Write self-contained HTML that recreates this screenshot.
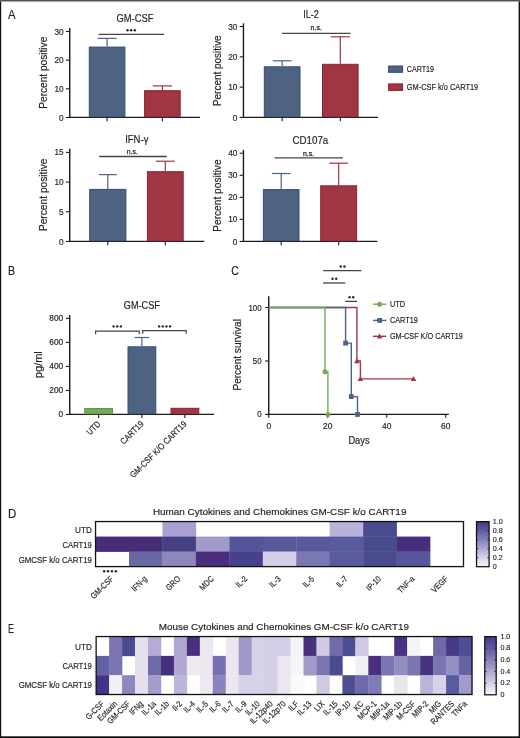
<!DOCTYPE html>
<html><head><meta charset="utf-8"><style>
html,body{margin:0;padding:0;background:#fff;}
body{width:520px;height:738px;overflow:hidden;}
svg{display:block;font-family:"Liberation Sans", sans-serif;will-change:transform;}
</style></head><body>
<svg width="520" height="738" viewBox="0 0 520 738">
<rect x="0" y="0" width="520" height="738" fill="#fff"/>
<line x1="69.75" y1="28.10" x2="69.75" y2="118.05" stroke="#1a1a1a" stroke-width="1.4" stroke-linecap="butt"/>
<line x1="69.05" y1="117.45" x2="200.00" y2="117.45" stroke="#1a1a1a" stroke-width="1.2" stroke-linecap="butt"/>
<line x1="65.95" y1="117.45" x2="69.75" y2="117.45" stroke="#1a1a1a" stroke-width="1.1" stroke-linecap="butt"/>
<text x="63.65" y="120.55" font-size="8.9" text-anchor="end" fill="#231f20" stroke="#231f20" stroke-width="0.18" textLength="4.60" lengthAdjust="spacingAndGlyphs">0</text>
<line x1="65.95" y1="88.80" x2="69.75" y2="88.80" stroke="#1a1a1a" stroke-width="1.1" stroke-linecap="butt"/>
<text x="63.65" y="91.90" font-size="8.9" text-anchor="end" fill="#231f20" stroke="#231f20" stroke-width="0.18" textLength="9.20" lengthAdjust="spacingAndGlyphs">10</text>
<line x1="65.95" y1="60.15" x2="69.75" y2="60.15" stroke="#1a1a1a" stroke-width="1.1" stroke-linecap="butt"/>
<text x="63.65" y="63.25" font-size="8.9" text-anchor="end" fill="#231f20" stroke="#231f20" stroke-width="0.18" textLength="9.20" lengthAdjust="spacingAndGlyphs">20</text>
<line x1="65.95" y1="31.50" x2="69.75" y2="31.50" stroke="#1a1a1a" stroke-width="1.1" stroke-linecap="butt"/>
<text x="63.65" y="34.60" font-size="8.9" text-anchor="end" fill="#231f20" stroke="#231f20" stroke-width="0.18" textLength="9.20" lengthAdjust="spacingAndGlyphs">30</text>
<rect x="89.30" y="47.10" width="35.60" height="69.70" fill="#4e6382" stroke="#354c78" stroke-width="1"/>
<line x1="107.10" y1="46.60" x2="107.10" y2="38.40" stroke="#4e6382" stroke-width="1.2" stroke-linecap="butt"/>
<line x1="97.60" y1="38.40" x2="116.60" y2="38.40" stroke="#4e6382" stroke-width="1.2" stroke-linecap="butt"/>
<line x1="107.10" y1="117.45" x2="107.10" y2="121.15" stroke="#1a1a1a" stroke-width="1.1" stroke-linecap="butt"/>
<rect x="144.60" y="90.70" width="35.60" height="26.10" fill="#a03543" stroke="#8c2234" stroke-width="1"/>
<line x1="162.40" y1="90.20" x2="162.40" y2="85.90" stroke="#a03543" stroke-width="1.2" stroke-linecap="butt"/>
<line x1="152.80" y1="85.90" x2="172.00" y2="85.90" stroke="#a03543" stroke-width="1.2" stroke-linecap="butt"/>
<line x1="162.40" y1="117.45" x2="162.40" y2="121.15" stroke="#1a1a1a" stroke-width="1.1" stroke-linecap="butt"/>
<line x1="98.70" y1="34.40" x2="164.00" y2="34.40" stroke="#444444" stroke-width="1.3" stroke-linecap="butt"/>
<circle cx="127.55" cy="30.30" r="1.22" fill="#262626"/>
<circle cx="131.20" cy="30.30" r="1.22" fill="#262626"/>
<circle cx="134.85" cy="30.30" r="1.22" fill="#262626"/>
<text x="135.00" y="22.30" font-size="10.6" text-anchor="middle" fill="#231f20" stroke="#231f20" stroke-width="0.18" textLength="37.00" lengthAdjust="spacingAndGlyphs">GM-CSF</text>
<text x="47.20" y="72.70" font-size="10.6" text-anchor="middle" fill="#231f20" stroke="#231f20" stroke-width="0.18" textLength="72.00" lengthAdjust="spacingAndGlyphs" transform="rotate(-90 47.20 72.70)">Percent positive</text>
<line x1="243.45" y1="23.30" x2="243.45" y2="118.05" stroke="#1a1a1a" stroke-width="1.4" stroke-linecap="butt"/>
<line x1="242.75" y1="117.45" x2="378.00" y2="117.45" stroke="#1a1a1a" stroke-width="1.2" stroke-linecap="butt"/>
<line x1="239.65" y1="117.45" x2="243.45" y2="117.45" stroke="#1a1a1a" stroke-width="1.1" stroke-linecap="butt"/>
<text x="237.35" y="120.55" font-size="8.9" text-anchor="end" fill="#231f20" stroke="#231f20" stroke-width="0.18" textLength="4.60" lengthAdjust="spacingAndGlyphs">0</text>
<line x1="239.65" y1="87.13" x2="243.45" y2="87.13" stroke="#1a1a1a" stroke-width="1.1" stroke-linecap="butt"/>
<text x="237.35" y="90.23" font-size="8.9" text-anchor="end" fill="#231f20" stroke="#231f20" stroke-width="0.18" textLength="9.20" lengthAdjust="spacingAndGlyphs">10</text>
<line x1="239.65" y1="56.81" x2="243.45" y2="56.81" stroke="#1a1a1a" stroke-width="1.1" stroke-linecap="butt"/>
<text x="237.35" y="59.91" font-size="8.9" text-anchor="end" fill="#231f20" stroke="#231f20" stroke-width="0.18" textLength="9.20" lengthAdjust="spacingAndGlyphs">20</text>
<line x1="239.65" y1="26.49" x2="243.45" y2="26.49" stroke="#1a1a1a" stroke-width="1.1" stroke-linecap="butt"/>
<text x="237.35" y="29.59" font-size="8.9" text-anchor="end" fill="#231f20" stroke="#231f20" stroke-width="0.18" textLength="9.20" lengthAdjust="spacingAndGlyphs">30</text>
<rect x="264.30" y="66.80" width="35.70" height="50.00" fill="#4e6382" stroke="#354c78" stroke-width="1"/>
<line x1="282.15" y1="66.30" x2="282.15" y2="60.80" stroke="#4e6382" stroke-width="1.2" stroke-linecap="butt"/>
<line x1="272.75" y1="60.80" x2="291.55" y2="60.80" stroke="#4e6382" stroke-width="1.2" stroke-linecap="butt"/>
<line x1="282.15" y1="117.45" x2="282.15" y2="121.15" stroke="#1a1a1a" stroke-width="1.1" stroke-linecap="butt"/>
<rect x="322.50" y="64.30" width="35.60" height="52.50" fill="#a03543" stroke="#8c2234" stroke-width="1"/>
<line x1="340.30" y1="63.80" x2="340.30" y2="36.80" stroke="#a03543" stroke-width="1.2" stroke-linecap="butt"/>
<line x1="330.80" y1="36.80" x2="349.80" y2="36.80" stroke="#a03543" stroke-width="1.2" stroke-linecap="butt"/>
<line x1="340.30" y1="117.45" x2="340.30" y2="121.15" stroke="#1a1a1a" stroke-width="1.1" stroke-linecap="butt"/>
<line x1="282.00" y1="33.30" x2="350.50" y2="33.30" stroke="#444444" stroke-width="1.3" stroke-linecap="butt"/>
<text x="316.20" y="30.40" font-size="7.8" text-anchor="middle" fill="#231f20" stroke="#231f20" stroke-width="0.25" textLength="11.30" lengthAdjust="spacingAndGlyphs">n.s.</text>
<text x="311.00" y="17.50" font-size="10.6" text-anchor="middle" fill="#231f20" stroke="#231f20" stroke-width="0.18" textLength="15.70" lengthAdjust="spacingAndGlyphs">IL-2</text>
<text x="220.60" y="70.70" font-size="10.6" text-anchor="middle" fill="#231f20" stroke="#231f20" stroke-width="0.18" textLength="70.70" lengthAdjust="spacingAndGlyphs" transform="rotate(-90 220.60 70.70)">Percent positive</text>
<line x1="69.75" y1="148.80" x2="69.75" y2="242.05" stroke="#1a1a1a" stroke-width="1.4" stroke-linecap="butt"/>
<line x1="69.05" y1="241.45" x2="204.30" y2="241.45" stroke="#1a1a1a" stroke-width="1.2" stroke-linecap="butt"/>
<line x1="65.95" y1="241.45" x2="69.75" y2="241.45" stroke="#1a1a1a" stroke-width="1.1" stroke-linecap="butt"/>
<text x="63.65" y="244.55" font-size="8.9" text-anchor="end" fill="#231f20" stroke="#231f20" stroke-width="0.18" textLength="4.60" lengthAdjust="spacingAndGlyphs">0</text>
<line x1="65.95" y1="211.76" x2="69.75" y2="211.76" stroke="#1a1a1a" stroke-width="1.1" stroke-linecap="butt"/>
<text x="63.65" y="214.86" font-size="8.9" text-anchor="end" fill="#231f20" stroke="#231f20" stroke-width="0.18" textLength="4.60" lengthAdjust="spacingAndGlyphs">5</text>
<line x1="65.95" y1="182.08" x2="69.75" y2="182.08" stroke="#1a1a1a" stroke-width="1.1" stroke-linecap="butt"/>
<text x="63.65" y="185.18" font-size="8.9" text-anchor="end" fill="#231f20" stroke="#231f20" stroke-width="0.18" textLength="9.20" lengthAdjust="spacingAndGlyphs">10</text>
<line x1="65.95" y1="152.39" x2="69.75" y2="152.39" stroke="#1a1a1a" stroke-width="1.1" stroke-linecap="butt"/>
<text x="63.65" y="155.49" font-size="8.9" text-anchor="end" fill="#231f20" stroke="#231f20" stroke-width="0.18" textLength="9.20" lengthAdjust="spacingAndGlyphs">15</text>
<rect x="89.70" y="189.40" width="36.20" height="51.40" fill="#4e6382" stroke="#354c78" stroke-width="1"/>
<line x1="107.80" y1="188.90" x2="107.80" y2="174.60" stroke="#4e6382" stroke-width="1.2" stroke-linecap="butt"/>
<line x1="98.90" y1="174.60" x2="116.70" y2="174.60" stroke="#4e6382" stroke-width="1.2" stroke-linecap="butt"/>
<line x1="107.80" y1="241.45" x2="107.80" y2="245.15" stroke="#1a1a1a" stroke-width="1.1" stroke-linecap="butt"/>
<rect x="147.40" y="171.70" width="35.80" height="69.10" fill="#a03543" stroke="#8c2234" stroke-width="1"/>
<line x1="165.30" y1="171.20" x2="165.30" y2="161.20" stroke="#a03543" stroke-width="1.2" stroke-linecap="butt"/>
<line x1="155.90" y1="161.20" x2="174.70" y2="161.20" stroke="#a03543" stroke-width="1.2" stroke-linecap="butt"/>
<line x1="165.30" y1="241.45" x2="165.30" y2="245.15" stroke="#1a1a1a" stroke-width="1.1" stroke-linecap="butt"/>
<line x1="99.20" y1="156.50" x2="166.80" y2="156.50" stroke="#444444" stroke-width="1.3" stroke-linecap="butt"/>
<text x="132.30" y="154.40" font-size="7.8" text-anchor="middle" fill="#231f20" stroke="#231f20" stroke-width="0.25" textLength="11.00" lengthAdjust="spacingAndGlyphs">n.s.</text>
<text x="136.80" y="142.50" font-size="10.6" text-anchor="middle" fill="#231f20" stroke="#231f20" stroke-width="0.18" textLength="23.20" lengthAdjust="spacingAndGlyphs">IFN-γ</text>
<text x="47.20" y="194.80" font-size="10.6" text-anchor="middle" fill="#231f20" stroke="#231f20" stroke-width="0.18" textLength="72.60" lengthAdjust="spacingAndGlyphs" transform="rotate(-90 47.20 194.80)">Percent positive</text>
<line x1="243.45" y1="149.80" x2="243.45" y2="242.05" stroke="#1a1a1a" stroke-width="1.4" stroke-linecap="butt"/>
<line x1="242.75" y1="241.45" x2="377.30" y2="241.45" stroke="#1a1a1a" stroke-width="1.2" stroke-linecap="butt"/>
<line x1="239.65" y1="241.45" x2="243.45" y2="241.45" stroke="#1a1a1a" stroke-width="1.1" stroke-linecap="butt"/>
<text x="237.35" y="244.55" font-size="8.9" text-anchor="end" fill="#231f20" stroke="#231f20" stroke-width="0.18" textLength="4.60" lengthAdjust="spacingAndGlyphs">0</text>
<line x1="239.65" y1="219.39" x2="243.45" y2="219.39" stroke="#1a1a1a" stroke-width="1.1" stroke-linecap="butt"/>
<text x="237.35" y="222.49" font-size="8.9" text-anchor="end" fill="#231f20" stroke="#231f20" stroke-width="0.18" textLength="9.20" lengthAdjust="spacingAndGlyphs">10</text>
<line x1="239.65" y1="197.33" x2="243.45" y2="197.33" stroke="#1a1a1a" stroke-width="1.1" stroke-linecap="butt"/>
<text x="237.35" y="200.43" font-size="8.9" text-anchor="end" fill="#231f20" stroke="#231f20" stroke-width="0.18" textLength="9.20" lengthAdjust="spacingAndGlyphs">20</text>
<line x1="239.65" y1="175.27" x2="243.45" y2="175.27" stroke="#1a1a1a" stroke-width="1.1" stroke-linecap="butt"/>
<text x="237.35" y="178.37" font-size="8.9" text-anchor="end" fill="#231f20" stroke="#231f20" stroke-width="0.18" textLength="9.20" lengthAdjust="spacingAndGlyphs">30</text>
<line x1="239.65" y1="153.21" x2="243.45" y2="153.21" stroke="#1a1a1a" stroke-width="1.1" stroke-linecap="butt"/>
<text x="237.35" y="156.31" font-size="8.9" text-anchor="end" fill="#231f20" stroke="#231f20" stroke-width="0.18" textLength="9.20" lengthAdjust="spacingAndGlyphs">40</text>
<rect x="263.40" y="189.60" width="35.60" height="51.20" fill="#4e6382" stroke="#354c78" stroke-width="1"/>
<line x1="281.20" y1="189.10" x2="281.20" y2="173.50" stroke="#4e6382" stroke-width="1.2" stroke-linecap="butt"/>
<line x1="271.80" y1="173.50" x2="290.60" y2="173.50" stroke="#4e6382" stroke-width="1.2" stroke-linecap="butt"/>
<line x1="281.20" y1="241.45" x2="281.20" y2="245.15" stroke="#1a1a1a" stroke-width="1.1" stroke-linecap="butt"/>
<rect x="320.70" y="185.80" width="35.90" height="55.00" fill="#a03543" stroke="#8c2234" stroke-width="1"/>
<line x1="338.65" y1="185.30" x2="338.65" y2="163.20" stroke="#a03543" stroke-width="1.2" stroke-linecap="butt"/>
<line x1="329.25" y1="163.20" x2="348.05" y2="163.20" stroke="#a03543" stroke-width="1.2" stroke-linecap="butt"/>
<line x1="338.65" y1="241.45" x2="338.65" y2="245.15" stroke="#1a1a1a" stroke-width="1.1" stroke-linecap="butt"/>
<line x1="274.50" y1="157.80" x2="342.90" y2="157.80" stroke="#444444" stroke-width="1.3" stroke-linecap="butt"/>
<text x="308.60" y="155.60" font-size="7.8" text-anchor="middle" fill="#231f20" stroke="#231f20" stroke-width="0.25" textLength="11.20" lengthAdjust="spacingAndGlyphs">n.s.</text>
<text x="310.40" y="143.80" font-size="10.6" text-anchor="middle" fill="#231f20" stroke="#231f20" stroke-width="0.18" textLength="35.80" lengthAdjust="spacingAndGlyphs">CD107a</text>
<text x="220.60" y="195.60" font-size="10.6" text-anchor="middle" fill="#231f20" stroke="#231f20" stroke-width="0.18" textLength="72.40" lengthAdjust="spacingAndGlyphs" transform="rotate(-90 220.60 195.60)">Percent positive</text>
<rect x="388.6" y="66.0" width="14.0" height="6.3" fill="#4e6382" stroke="#354c78" stroke-width="1"/>
<rect x="388.6" y="83.9" width="14.0" height="6.5" fill="#a03543" stroke="#8c2234" stroke-width="1"/>
<text x="406.80" y="72.00" font-size="8.9" text-anchor="start" fill="#231f20" stroke="#231f20" stroke-width="0.18" textLength="27.20" lengthAdjust="spacingAndGlyphs">CART19</text>
<text x="406.80" y="89.90" font-size="8.9" text-anchor="start" fill="#231f20" stroke="#231f20" stroke-width="0.18" textLength="71.40" lengthAdjust="spacingAndGlyphs">GM-CSF k/o CART19</text>
<text x="8.00" y="19.00" font-size="12.2" text-anchor="start" fill="#231f20" stroke="#231f20" stroke-width="0.18" textLength="7.50" lengthAdjust="spacingAndGlyphs">A</text>
<text x="8.00" y="274.70" font-size="12.2" text-anchor="start" fill="#231f20" stroke="#231f20" stroke-width="0.18" textLength="7.10" lengthAdjust="spacingAndGlyphs">B</text>
<text x="231.20" y="275.00" font-size="12.2" text-anchor="start" fill="#231f20" stroke="#231f20" stroke-width="0.18" textLength="7.60" lengthAdjust="spacingAndGlyphs">C</text>
<text x="8.00" y="517.70" font-size="12.2" text-anchor="start" fill="#231f20" stroke="#231f20" stroke-width="0.18" textLength="8.30" lengthAdjust="spacingAndGlyphs">D</text>
<text x="8.00" y="632.70" font-size="12.2" text-anchor="start" fill="#231f20" stroke="#231f20" stroke-width="0.18" textLength="6.00" lengthAdjust="spacingAndGlyphs">E</text>
<line x1="69.75" y1="315.00" x2="69.75" y2="415.05" stroke="#1a1a1a" stroke-width="1.4" stroke-linecap="butt"/>
<line x1="69.05" y1="414.45" x2="214.00" y2="414.45" stroke="#1a1a1a" stroke-width="1.2" stroke-linecap="butt"/>
<line x1="65.95" y1="414.45" x2="69.75" y2="414.45" stroke="#1a1a1a" stroke-width="1.1" stroke-linecap="butt"/>
<text x="63.15" y="417.45" font-size="8.3" text-anchor="end" fill="#231f20" stroke="#231f20" stroke-width="0.18" textLength="4.62" lengthAdjust="spacingAndGlyphs">0</text>
<line x1="65.95" y1="390.43" x2="69.75" y2="390.43" stroke="#1a1a1a" stroke-width="1.1" stroke-linecap="butt"/>
<text x="63.15" y="393.43" font-size="8.3" text-anchor="end" fill="#231f20" stroke="#231f20" stroke-width="0.18" textLength="13.85" lengthAdjust="spacingAndGlyphs">200</text>
<line x1="65.95" y1="366.41" x2="69.75" y2="366.41" stroke="#1a1a1a" stroke-width="1.1" stroke-linecap="butt"/>
<text x="63.15" y="369.41" font-size="8.3" text-anchor="end" fill="#231f20" stroke="#231f20" stroke-width="0.18" textLength="13.85" lengthAdjust="spacingAndGlyphs">400</text>
<line x1="65.95" y1="342.39" x2="69.75" y2="342.39" stroke="#1a1a1a" stroke-width="1.1" stroke-linecap="butt"/>
<text x="63.15" y="345.39" font-size="8.3" text-anchor="end" fill="#231f20" stroke="#231f20" stroke-width="0.18" textLength="13.85" lengthAdjust="spacingAndGlyphs">600</text>
<line x1="65.95" y1="318.37" x2="69.75" y2="318.37" stroke="#1a1a1a" stroke-width="1.1" stroke-linecap="butt"/>
<text x="63.15" y="321.37" font-size="8.3" text-anchor="end" fill="#231f20" stroke="#231f20" stroke-width="0.18" textLength="13.85" lengthAdjust="spacingAndGlyphs">800</text>
<rect x="84.70" y="408.50" width="27.90" height="5.30" fill="#76a85a" stroke="#5e9844" stroke-width="1"/>
<line x1="98.65" y1="414.45" x2="98.65" y2="418.05" stroke="#1a1a1a" stroke-width="1.1" stroke-linecap="butt"/>
<rect x="128.00" y="346.80" width="27.80" height="67.00" fill="#4e6382" stroke="#354c78" stroke-width="1"/>
<line x1="141.90" y1="414.45" x2="141.90" y2="418.05" stroke="#1a1a1a" stroke-width="1.1" stroke-linecap="butt"/>
<rect x="171.00" y="408.30" width="27.80" height="5.50" fill="#a03543" stroke="#8c2234" stroke-width="1"/>
<line x1="184.90" y1="414.45" x2="184.90" y2="418.05" stroke="#1a1a1a" stroke-width="1.1" stroke-linecap="butt"/>
<line x1="141.90" y1="346.30" x2="141.90" y2="337.50" stroke="#4e6382" stroke-width="1.2" stroke-linecap="butt"/>
<line x1="134.60" y1="337.50" x2="149.20" y2="337.50" stroke="#4e6382" stroke-width="1.2" stroke-linecap="butt"/>
<polyline points="95.6,334.2 95.6,331.1 139.3,331.1 139.3,334.2" fill="none" stroke="#444444" stroke-width="1.2"/>
<polyline points="142.7,333.7 142.7,330.6 186.2,330.6 186.2,333.7" fill="none" stroke="#444444" stroke-width="1.2"/>
<circle cx="113.55" cy="326.40" r="1.22" fill="#262626"/>
<circle cx="117.20" cy="326.40" r="1.22" fill="#262626"/>
<circle cx="120.85" cy="326.40" r="1.22" fill="#262626"/>
<circle cx="159.12" cy="326.40" r="1.22" fill="#262626"/>
<circle cx="162.78" cy="326.40" r="1.22" fill="#262626"/>
<circle cx="166.43" cy="326.40" r="1.22" fill="#262626"/>
<circle cx="170.07" cy="326.40" r="1.22" fill="#262626"/>
<text x="141.80" y="309.00" font-size="10.4" text-anchor="middle" fill="#231f20" stroke="#231f20" stroke-width="0.18" textLength="36.00" lengthAdjust="spacingAndGlyphs">GM-CSF</text>
<text x="41.60" y="364.70" font-size="10.8" text-anchor="middle" fill="#231f20" stroke="#231f20" stroke-width="0.18" textLength="26.90" lengthAdjust="spacingAndGlyphs" transform="rotate(-90 41.60 364.70)">pg/ml</text>
<text x="101.05" y="424.60" font-size="8.8" text-anchor="end" fill="#231f20" stroke="#231f20" stroke-width="0.18" textLength="15.55" lengthAdjust="spacingAndGlyphs" transform="rotate(-45 101.05 424.60)">UTD</text>
<text x="144.30" y="424.60" font-size="8.8" text-anchor="end" fill="#231f20" stroke="#231f20" stroke-width="0.18" textLength="28.88" lengthAdjust="spacingAndGlyphs" transform="rotate(-45 144.30 424.60)">CART19</text>
<text x="187.30" y="424.60" font-size="8.8" text-anchor="end" fill="#231f20" stroke="#231f20" stroke-width="0.18" textLength="75.97" lengthAdjust="spacingAndGlyphs" transform="rotate(-45 187.30 424.60)">GM-CSF K/O CART19</text>
<line x1="268.75" y1="296.20" x2="268.75" y2="415.05" stroke="#1a1a1a" stroke-width="1.4" stroke-linecap="butt"/>
<line x1="268.05" y1="414.45" x2="448.80" y2="414.45" stroke="#1a1a1a" stroke-width="1.2" stroke-linecap="butt"/>
<line x1="265.15" y1="414.45" x2="268.75" y2="414.45" stroke="#1a1a1a" stroke-width="1.1" stroke-linecap="butt"/>
<text x="261.55" y="417.45" font-size="8.6" text-anchor="end" fill="#231f20" stroke="#231f20" stroke-width="0.18" textLength="4.35" lengthAdjust="spacingAndGlyphs">0</text>
<line x1="265.15" y1="360.98" x2="268.75" y2="360.98" stroke="#1a1a1a" stroke-width="1.1" stroke-linecap="butt"/>
<text x="261.55" y="363.98" font-size="8.6" text-anchor="end" fill="#231f20" stroke="#231f20" stroke-width="0.18" textLength="8.70" lengthAdjust="spacingAndGlyphs">50</text>
<line x1="265.15" y1="307.50" x2="268.75" y2="307.50" stroke="#1a1a1a" stroke-width="1.1" stroke-linecap="butt"/>
<text x="261.55" y="310.50" font-size="8.6" text-anchor="end" fill="#231f20" stroke="#231f20" stroke-width="0.18" textLength="13.05" lengthAdjust="spacingAndGlyphs">100</text>
<line x1="268.75" y1="414.45" x2="268.75" y2="417.85" stroke="#1a1a1a" stroke-width="1.1" stroke-linecap="butt"/>
<text x="268.75" y="429.00" font-size="8.6" text-anchor="middle" fill="#231f20" stroke="#231f20" stroke-width="0.18" textLength="4.70" lengthAdjust="spacingAndGlyphs">0</text>
<line x1="327.75" y1="414.45" x2="327.75" y2="417.85" stroke="#1a1a1a" stroke-width="1.1" stroke-linecap="butt"/>
<text x="327.75" y="429.00" font-size="8.6" text-anchor="middle" fill="#231f20" stroke="#231f20" stroke-width="0.18" textLength="9.40" lengthAdjust="spacingAndGlyphs">20</text>
<line x1="386.75" y1="414.45" x2="386.75" y2="417.85" stroke="#1a1a1a" stroke-width="1.1" stroke-linecap="butt"/>
<text x="386.75" y="429.00" font-size="8.6" text-anchor="middle" fill="#231f20" stroke="#231f20" stroke-width="0.18" textLength="9.40" lengthAdjust="spacingAndGlyphs">40</text>
<line x1="445.75" y1="414.45" x2="445.75" y2="417.85" stroke="#1a1a1a" stroke-width="1.1" stroke-linecap="butt"/>
<text x="445.75" y="429.00" font-size="8.6" text-anchor="middle" fill="#231f20" stroke="#231f20" stroke-width="0.18" textLength="9.40" lengthAdjust="spacingAndGlyphs">60</text>
<text x="359.00" y="443.70" font-size="10.4" text-anchor="middle" fill="#231f20" stroke="#231f20" stroke-width="0.18" textLength="21.20" lengthAdjust="spacingAndGlyphs">Days</text>
<text x="240.60" y="354.80" font-size="10.6" text-anchor="middle" fill="#231f20" stroke="#231f20" stroke-width="0.18" textLength="71.40" lengthAdjust="spacingAndGlyphs" transform="rotate(-90 240.60 354.80)">Percent survival</text>
<polyline points="268.75,307.50 356.90,307.50 356.90,360.98 360.40,360.98 360.40,378.84 413.50,378.84" fill="none" stroke="#a03543" stroke-width="1.4"/>
<polygon points="354.10,363.22 359.70,363.22 356.90,358.18" fill="#a03543"/>
<polygon points="357.60,381.08 363.20,381.08 360.40,376.04" fill="#a03543"/>
<polygon points="410.70,381.08 416.30,381.08 413.50,376.04" fill="#a03543"/>
<polyline points="268.75,307.50 345.60,307.50 345.60,343.11 351.30,343.11 351.30,396.59 357.50,396.59 357.50,414.45" fill="none" stroke="#4e6382" stroke-width="1.4"/>
<rect x="343.20" y="340.71" width="4.80" height="4.80" fill="#4e6382"/>
<rect x="348.90" y="394.19" width="4.80" height="4.80" fill="#4e6382"/>
<rect x="355.10" y="412.05" width="4.80" height="4.80" fill="#4e6382"/>
<polyline points="268.75,307.50 325.00,307.50 325.00,371.67 327.90,371.67 327.90,414.45" fill="none" stroke="#76a85a" stroke-width="1.4"/>
<circle cx="325.00" cy="371.67" r="2.5" fill="#76a85a"/>
<circle cx="327.90" cy="414.45" r="2.5" fill="#76a85a"/>
<line x1="373.00" y1="304.20" x2="386.30" y2="304.20" stroke="#76a85a" stroke-width="1.4" stroke-linecap="butt"/>
<circle cx="379.6" cy="304.2" r="2.5" fill="#76a85a"/>
<text x="389.90" y="307.20" font-size="8.9" text-anchor="start" fill="#231f20" stroke="#231f20" stroke-width="0.18" textLength="15.20" lengthAdjust="spacingAndGlyphs">UTD</text>
<line x1="373.00" y1="320.40" x2="386.30" y2="320.40" stroke="#4e6382" stroke-width="1.4" stroke-linecap="butt"/>
<rect x="377.20" y="318.00" width="4.80" height="4.80" fill="#4e6382"/>
<text x="389.90" y="323.40" font-size="8.9" text-anchor="start" fill="#231f20" stroke="#231f20" stroke-width="0.18" textLength="28.00" lengthAdjust="spacingAndGlyphs">CART19</text>
<line x1="373.00" y1="336.30" x2="386.30" y2="336.30" stroke="#a03543" stroke-width="1.4" stroke-linecap="butt"/>
<polygon points="376.80,338.54 382.40,338.54 379.60,333.50" fill="#a03543"/>
<text x="389.90" y="339.30" font-size="8.9" text-anchor="start" fill="#231f20" stroke="#231f20" stroke-width="0.18" textLength="73.00" lengthAdjust="spacingAndGlyphs">GM-CSF K/O CART19</text>
<line x1="323.10" y1="270.70" x2="361.40" y2="270.70" stroke="#444444" stroke-width="1.3" stroke-linecap="butt"/>
<circle cx="340.78" cy="266.50" r="1.22" fill="#262626"/>
<circle cx="344.43" cy="266.50" r="1.22" fill="#262626"/>
<line x1="323.10" y1="283.00" x2="345.30" y2="283.00" stroke="#444444" stroke-width="1.3" stroke-linecap="butt"/>
<circle cx="332.57" cy="278.80" r="1.22" fill="#262626"/>
<circle cx="336.22" cy="278.80" r="1.22" fill="#262626"/>
<line x1="345.30" y1="301.40" x2="357.10" y2="301.40" stroke="#444444" stroke-width="1.3" stroke-linecap="butt"/>
<circle cx="349.57" cy="297.20" r="1.22" fill="#262626"/>
<circle cx="353.22" cy="297.20" r="1.22" fill="#262626"/>
<rect x="162.45" y="521.55" width="33.75" height="15.32" fill="#a9a1d1"/>
<rect x="329.70" y="521.55" width="33.75" height="15.32" fill="#b9b2da"/>
<rect x="363.15" y="521.55" width="33.75" height="15.32" fill="#4a4a8e"/>
<rect x="95.55" y="536.57" width="33.75" height="15.32" fill="#482c76"/>
<rect x="129.00" y="536.57" width="33.75" height="15.32" fill="#482c76"/>
<rect x="162.45" y="536.57" width="33.75" height="15.32" fill="#444084"/>
<rect x="195.90" y="536.57" width="33.75" height="15.32" fill="#a29ccb"/>
<rect x="229.35" y="536.57" width="33.75" height="15.32" fill="#55549a"/>
<rect x="262.80" y="536.57" width="33.75" height="15.32" fill="#5a599d"/>
<rect x="296.25" y="536.57" width="33.75" height="15.32" fill="#5a599d"/>
<rect x="329.70" y="536.57" width="33.75" height="15.32" fill="#5a5a9e"/>
<rect x="363.15" y="536.57" width="33.75" height="15.32" fill="#4a4a8e"/>
<rect x="396.60" y="536.57" width="33.75" height="15.32" fill="#4a2e7e"/>
<rect x="129.00" y="551.58" width="33.75" height="15.32" fill="#6868a4"/>
<rect x="162.45" y="551.58" width="33.75" height="15.32" fill="#8c88bc"/>
<rect x="195.90" y="551.58" width="33.75" height="15.32" fill="#4a2d7d"/>
<rect x="229.35" y="551.58" width="33.75" height="15.32" fill="#45418a"/>
<rect x="262.80" y="551.58" width="33.75" height="15.32" fill="#d4d0e8"/>
<rect x="296.25" y="551.58" width="33.75" height="15.32" fill="#7a78b4"/>
<rect x="329.70" y="551.58" width="33.75" height="15.32" fill="#5a5a9e"/>
<rect x="363.15" y="551.58" width="33.75" height="15.32" fill="#4a4a8e"/>
<rect x="396.60" y="551.58" width="33.75" height="15.32" fill="#58569c"/>
<rect x="95.55" y="521.55" width="367.95" height="45.05" fill="none" stroke="#111" stroke-width="1.3"/>
<text x="152.90" y="515.30" font-size="9.9" text-anchor="start" fill="#231f20" stroke="#231f20" stroke-width="0.18" textLength="253.50" lengthAdjust="spacingAndGlyphs">Human Cytokines and Chemokines GM-CSF k/o CART19</text>
<text x="91.90" y="532.60" font-size="8.9" text-anchor="end" fill="#231f20" stroke="#231f20" stroke-width="0.18" textLength="16.80" lengthAdjust="spacingAndGlyphs">UTD</text>
<text x="91.90" y="547.80" font-size="8.9" text-anchor="end" fill="#231f20" stroke="#231f20" stroke-width="0.18" textLength="29.50" lengthAdjust="spacingAndGlyphs">CART19</text>
<text x="91.90" y="563.10" font-size="8.9" text-anchor="end" fill="#231f20" stroke="#231f20" stroke-width="0.18" textLength="73.20" lengthAdjust="spacingAndGlyphs">GMCSF k/o CART19</text>
<text x="114.07" y="579.30" font-size="8.4" text-anchor="end" fill="#231f20" stroke="#231f20" stroke-width="0.18" textLength="28.49" lengthAdjust="spacingAndGlyphs" transform="rotate(-45 114.07 579.30)">GM-CSF</text>
<text x="147.53" y="579.30" font-size="8.4" text-anchor="end" fill="#231f20" stroke="#231f20" stroke-width="0.18" textLength="18.06" lengthAdjust="spacingAndGlyphs" transform="rotate(-45 147.53 579.30)">IFN-g</text>
<text x="180.97" y="579.30" font-size="8.4" text-anchor="end" fill="#231f20" stroke="#231f20" stroke-width="0.18" textLength="16.45" lengthAdjust="spacingAndGlyphs" transform="rotate(-45 180.97 579.30)">GRO</text>
<text x="214.43" y="579.30" font-size="8.4" text-anchor="end" fill="#231f20" stroke="#231f20" stroke-width="0.18" textLength="16.45" lengthAdjust="spacingAndGlyphs" transform="rotate(-45 214.43 579.30)">MDC</text>
<text x="247.88" y="579.30" font-size="8.4" text-anchor="end" fill="#231f20" stroke="#231f20" stroke-width="0.18" textLength="12.45" lengthAdjust="spacingAndGlyphs" transform="rotate(-45 247.88 579.30)">IL-2</text>
<text x="281.32" y="579.30" font-size="8.4" text-anchor="end" fill="#231f20" stroke="#231f20" stroke-width="0.18" textLength="12.45" lengthAdjust="spacingAndGlyphs" transform="rotate(-45 281.32 579.30)">IL-3</text>
<text x="314.77" y="579.30" font-size="8.4" text-anchor="end" fill="#231f20" stroke="#231f20" stroke-width="0.18" textLength="12.45" lengthAdjust="spacingAndGlyphs" transform="rotate(-45 314.77 579.30)">IL-5</text>
<text x="348.22" y="579.30" font-size="8.4" text-anchor="end" fill="#231f20" stroke="#231f20" stroke-width="0.18" textLength="12.45" lengthAdjust="spacingAndGlyphs" transform="rotate(-45 348.22 579.30)">IL-7</text>
<text x="381.68" y="579.30" font-size="8.4" text-anchor="end" fill="#231f20" stroke="#231f20" stroke-width="0.18" textLength="17.27" lengthAdjust="spacingAndGlyphs" transform="rotate(-45 381.68 579.30)">IP-10</text>
<text x="415.12" y="579.30" font-size="8.4" text-anchor="end" fill="#231f20" stroke="#231f20" stroke-width="0.18" textLength="20.46" lengthAdjust="spacingAndGlyphs" transform="rotate(-45 415.12 579.30)">TNF-a</text>
<text x="448.57" y="579.30" font-size="8.4" text-anchor="end" fill="#231f20" stroke="#231f20" stroke-width="0.18" textLength="19.67" lengthAdjust="spacingAndGlyphs" transform="rotate(-45 448.57 579.30)">VEGF</text>
<circle cx="104.15" cy="571.30" r="1.22" fill="#262626"/>
<circle cx="108.05" cy="571.30" r="1.22" fill="#262626"/>
<circle cx="111.95" cy="571.30" r="1.22" fill="#262626"/>
<circle cx="115.85" cy="571.30" r="1.22" fill="#262626"/>
<defs><linearGradient id="g1" x1="0" y1="1" x2="0" y2="0"><stop offset="0" stop-color="#f8f6fa"/><stop offset="0.2" stop-color="#d6d0e8"/><stop offset="0.5" stop-color="#9a94c6"/><stop offset="0.8" stop-color="#5e5ca0"/><stop offset="1" stop-color="#433886"/></linearGradient></defs>
<rect x="476.50" y="521.65" width="12.60" height="45.05" fill="url(#g1)" stroke="#111" stroke-width="1.25"/>
<text x="492.70" y="523.59" font-size="7.4" text-anchor="start" fill="#231f20" stroke="#231f20" stroke-width="0.15" textLength="9.98" lengthAdjust="spacingAndGlyphs">1.0</text>
<line x1="476.50" y1="530.66" x2="478.30" y2="530.66" stroke="#222" stroke-width="0.9" stroke-linecap="butt"/>
<line x1="487.30" y1="530.66" x2="489.10" y2="530.66" stroke="#222" stroke-width="0.9" stroke-linecap="butt"/>
<text x="492.70" y="532.63" font-size="7.4" text-anchor="start" fill="#231f20" stroke="#231f20" stroke-width="0.15" textLength="9.98" lengthAdjust="spacingAndGlyphs">0.8</text>
<line x1="476.50" y1="539.67" x2="478.30" y2="539.67" stroke="#222" stroke-width="0.9" stroke-linecap="butt"/>
<line x1="487.30" y1="539.67" x2="489.10" y2="539.67" stroke="#222" stroke-width="0.9" stroke-linecap="butt"/>
<text x="492.70" y="541.67" font-size="7.4" text-anchor="start" fill="#231f20" stroke="#231f20" stroke-width="0.15" textLength="9.98" lengthAdjust="spacingAndGlyphs">0.6</text>
<line x1="476.50" y1="548.68" x2="478.30" y2="548.68" stroke="#222" stroke-width="0.9" stroke-linecap="butt"/>
<line x1="487.30" y1="548.68" x2="489.10" y2="548.68" stroke="#222" stroke-width="0.9" stroke-linecap="butt"/>
<text x="492.70" y="550.71" font-size="7.4" text-anchor="start" fill="#231f20" stroke="#231f20" stroke-width="0.15" textLength="9.98" lengthAdjust="spacingAndGlyphs">0.4</text>
<line x1="476.50" y1="557.69" x2="478.30" y2="557.69" stroke="#222" stroke-width="0.9" stroke-linecap="butt"/>
<line x1="487.30" y1="557.69" x2="489.10" y2="557.69" stroke="#222" stroke-width="0.9" stroke-linecap="butt"/>
<text x="492.70" y="559.75" font-size="7.4" text-anchor="start" fill="#231f20" stroke="#231f20" stroke-width="0.15" textLength="9.98" lengthAdjust="spacingAndGlyphs">0.2</text>
<text x="492.70" y="568.79" font-size="7.4" text-anchor="start" fill="#231f20" stroke="#231f20" stroke-width="0.15" textLength="3.99" lengthAdjust="spacingAndGlyphs">0</text>
<rect x="109.11" y="636.55" width="13.26" height="19.62" fill="#7a74b0"/>
<rect x="122.07" y="636.55" width="13.26" height="19.62" fill="#4a4a90"/>
<rect x="135.03" y="636.55" width="13.26" height="19.62" fill="#e6e0ee"/>
<rect x="147.99" y="636.55" width="13.26" height="19.62" fill="#b4acd4"/>
<rect x="173.91" y="636.55" width="13.26" height="19.62" fill="#b0a8d2"/>
<rect x="186.87" y="636.55" width="13.26" height="19.62" fill="#48307e"/>
<rect x="199.83" y="636.55" width="13.26" height="19.62" fill="#ece6f0"/>
<rect x="225.75" y="636.55" width="13.26" height="19.62" fill="#ece6f0"/>
<rect x="238.71" y="636.55" width="13.26" height="19.62" fill="#a098c8"/>
<rect x="251.67" y="636.55" width="13.26" height="19.62" fill="#d8d2e8"/>
<rect x="264.63" y="636.55" width="13.26" height="19.62" fill="#d4cee6"/>
<rect x="277.59" y="636.55" width="13.26" height="19.62" fill="#d4cee6"/>
<rect x="290.56" y="636.55" width="13.26" height="19.62" fill="#f6f4f8"/>
<rect x="303.52" y="636.55" width="13.26" height="19.62" fill="#48307e"/>
<rect x="316.48" y="636.55" width="13.26" height="19.62" fill="#d0cae4"/>
<rect x="329.44" y="636.55" width="13.26" height="19.62" fill="#706cac"/>
<rect x="342.40" y="636.55" width="13.26" height="19.62" fill="#4e4e94"/>
<rect x="355.36" y="636.55" width="13.26" height="19.62" fill="#cfc9e3"/>
<rect x="394.24" y="636.55" width="13.26" height="19.62" fill="#4a3280"/>
<rect x="407.20" y="636.55" width="13.26" height="19.62" fill="#f6f4f8"/>
<rect x="433.12" y="636.55" width="13.26" height="19.62" fill="#6e6aaa"/>
<rect x="446.08" y="636.55" width="13.26" height="19.62" fill="#433a88"/>
<rect x="459.04" y="636.55" width="13.26" height="19.62" fill="#4e4e94"/>
<rect x="96.15" y="655.87" width="13.26" height="19.62" fill="#6462a4"/>
<rect x="109.11" y="655.87" width="13.26" height="19.62" fill="#7a76b2"/>
<rect x="135.03" y="655.87" width="13.26" height="19.62" fill="#e6e0ee"/>
<rect x="147.99" y="655.87" width="13.26" height="19.62" fill="#6e6aaa"/>
<rect x="160.95" y="655.87" width="13.26" height="19.62" fill="#46307c"/>
<rect x="173.91" y="655.87" width="13.26" height="19.62" fill="#b0a8d2"/>
<rect x="186.87" y="655.87" width="13.26" height="19.62" fill="#eee8f0"/>
<rect x="199.83" y="655.87" width="13.26" height="19.62" fill="#ece6f0"/>
<rect x="212.79" y="655.87" width="13.26" height="19.62" fill="#7670b0"/>
<rect x="225.75" y="655.87" width="13.26" height="19.62" fill="#ece6f0"/>
<rect x="238.71" y="655.87" width="13.26" height="19.62" fill="#a098c8"/>
<rect x="251.67" y="655.87" width="13.26" height="19.62" fill="#d8d2e8"/>
<rect x="264.63" y="655.87" width="13.26" height="19.62" fill="#d4cee6"/>
<rect x="277.59" y="655.87" width="13.26" height="19.62" fill="#ece6f0"/>
<rect x="290.56" y="655.87" width="13.26" height="19.62" fill="#f6f4f8"/>
<rect x="303.52" y="655.87" width="13.26" height="19.62" fill="#a29acb"/>
<rect x="316.48" y="655.87" width="13.26" height="19.62" fill="#7a76b2"/>
<rect x="329.44" y="655.87" width="13.26" height="19.62" fill="#4a4a90"/>
<rect x="355.36" y="655.87" width="13.26" height="19.62" fill="#f2f0f5"/>
<rect x="368.32" y="655.87" width="13.26" height="19.62" fill="#48307e"/>
<rect x="381.28" y="655.87" width="13.26" height="19.62" fill="#7a76b2"/>
<rect x="394.24" y="655.87" width="13.26" height="19.62" fill="#938ec2"/>
<rect x="407.20" y="655.87" width="13.26" height="19.62" fill="#7a76b2"/>
<rect x="420.16" y="655.87" width="13.26" height="19.62" fill="#46327e"/>
<rect x="433.12" y="655.87" width="13.26" height="19.62" fill="#7a76b2"/>
<rect x="446.08" y="655.87" width="13.26" height="19.62" fill="#968fc4"/>
<rect x="459.04" y="655.87" width="13.26" height="19.62" fill="#6662a4"/>
<rect x="96.15" y="675.18" width="13.26" height="19.62" fill="#44338a"/>
<rect x="109.11" y="675.18" width="13.26" height="19.62" fill="#f2f0f5"/>
<rect x="122.07" y="675.18" width="13.26" height="19.62" fill="#8e88c0"/>
<rect x="135.03" y="675.18" width="13.26" height="19.62" fill="#e6e0ee"/>
<rect x="147.99" y="675.18" width="13.26" height="19.62" fill="#a49cca"/>
<rect x="173.91" y="675.18" width="13.26" height="19.62" fill="#bcb4da"/>
<rect x="199.83" y="675.18" width="13.26" height="19.62" fill="#eee8f2"/>
<rect x="212.79" y="675.18" width="13.26" height="19.62" fill="#8a84be"/>
<rect x="225.75" y="675.18" width="13.26" height="19.62" fill="#ece6f0"/>
<rect x="238.71" y="675.18" width="13.26" height="19.62" fill="#d8d2e8"/>
<rect x="251.67" y="675.18" width="13.26" height="19.62" fill="#d8d2e8"/>
<rect x="264.63" y="675.18" width="13.26" height="19.62" fill="#d4cee6"/>
<rect x="277.59" y="675.18" width="13.26" height="19.62" fill="#ece6f0"/>
<rect x="290.56" y="675.18" width="13.26" height="19.62" fill="#fafafa"/>
<rect x="316.48" y="675.18" width="13.26" height="19.62" fill="#cfc9e3"/>
<rect x="342.40" y="675.18" width="13.26" height="19.62" fill="#4e4e94"/>
<rect x="355.36" y="675.18" width="13.26" height="19.62" fill="#6e6aaa"/>
<rect x="368.32" y="675.18" width="13.26" height="19.62" fill="#7e7ab4"/>
<rect x="394.24" y="675.18" width="13.26" height="19.62" fill="#e8e4f0"/>
<rect x="420.16" y="675.18" width="13.26" height="19.62" fill="#bab4da"/>
<rect x="433.12" y="675.18" width="13.26" height="19.62" fill="#d8d2e8"/>
<rect x="446.08" y="675.18" width="13.26" height="19.62" fill="#5a5a9e"/>
<rect x="459.04" y="675.18" width="13.26" height="19.62" fill="#a29acb"/>
<rect x="96.15" y="636.55" width="375.85" height="57.95" fill="none" stroke="#111" stroke-width="1.3"/>
<text x="158.80" y="630.30" font-size="9.9" text-anchor="start" fill="#231f20" stroke="#231f20" stroke-width="0.18" textLength="250.20" lengthAdjust="spacingAndGlyphs">Mouse Cytokines and Chemokines GM-CSF k/o CART19</text>
<text x="91.90" y="649.70" font-size="8.9" text-anchor="end" fill="#231f20" stroke="#231f20" stroke-width="0.18" textLength="16.80" lengthAdjust="spacingAndGlyphs">UTD</text>
<text x="91.90" y="668.90" font-size="8.9" text-anchor="end" fill="#231f20" stroke="#231f20" stroke-width="0.18" textLength="29.50" lengthAdjust="spacingAndGlyphs">CART19</text>
<text x="91.90" y="688.20" font-size="8.9" text-anchor="end" fill="#231f20" stroke="#231f20" stroke-width="0.18" textLength="73.20" lengthAdjust="spacingAndGlyphs">GMCSF k/o CART19</text>
<text x="104.83" y="704.40" font-size="8.4" text-anchor="end" fill="#231f20" stroke="#231f20" stroke-width="0.18" textLength="22.47" lengthAdjust="spacingAndGlyphs" transform="rotate(-45 104.83 704.40)">G-CSF</text>
<text x="117.79" y="704.40" font-size="8.4" text-anchor="end" fill="#231f20" stroke="#231f20" stroke-width="0.18" textLength="24.09" lengthAdjust="spacingAndGlyphs" transform="rotate(-45 117.79 704.40)">Eotaxin</text>
<text x="130.75" y="704.40" font-size="8.4" text-anchor="end" fill="#231f20" stroke="#231f20" stroke-width="0.18" textLength="28.49" lengthAdjust="spacingAndGlyphs" transform="rotate(-45 130.75 704.40)">GM-CSF</text>
<text x="143.71" y="704.40" font-size="8.4" text-anchor="end" fill="#231f20" stroke="#231f20" stroke-width="0.18" textLength="15.65" lengthAdjust="spacingAndGlyphs" transform="rotate(-45 143.71 704.40)">IFNg</text>
<text x="156.67" y="704.40" font-size="8.4" text-anchor="end" fill="#231f20" stroke="#231f20" stroke-width="0.18" textLength="16.46" lengthAdjust="spacingAndGlyphs" transform="rotate(-45 156.67 704.40)">IL-1a</text>
<text x="169.63" y="704.40" font-size="8.4" text-anchor="end" fill="#231f20" stroke="#231f20" stroke-width="0.18" textLength="16.46" lengthAdjust="spacingAndGlyphs" transform="rotate(-45 169.63 704.40)">IL-1b</text>
<text x="182.59" y="704.40" font-size="8.4" text-anchor="end" fill="#231f20" stroke="#231f20" stroke-width="0.18" textLength="10.03" lengthAdjust="spacingAndGlyphs" transform="rotate(-45 182.59 704.40)">Il-2</text>
<text x="195.55" y="704.40" font-size="8.4" text-anchor="end" fill="#231f20" stroke="#231f20" stroke-width="0.18" textLength="12.45" lengthAdjust="spacingAndGlyphs" transform="rotate(-45 195.55 704.40)">IL-4</text>
<text x="208.51" y="704.40" font-size="8.4" text-anchor="end" fill="#231f20" stroke="#231f20" stroke-width="0.18" textLength="12.45" lengthAdjust="spacingAndGlyphs" transform="rotate(-45 208.51 704.40)">IL-5</text>
<text x="221.47" y="704.40" font-size="8.4" text-anchor="end" fill="#231f20" stroke="#231f20" stroke-width="0.18" textLength="12.45" lengthAdjust="spacingAndGlyphs" transform="rotate(-45 221.47 704.40)">IL-6</text>
<text x="234.43" y="704.40" font-size="8.4" text-anchor="end" fill="#231f20" stroke="#231f20" stroke-width="0.18" textLength="12.45" lengthAdjust="spacingAndGlyphs" transform="rotate(-45 234.43 704.40)">IL-7</text>
<text x="247.39" y="704.40" font-size="8.4" text-anchor="end" fill="#231f20" stroke="#231f20" stroke-width="0.18" textLength="12.45" lengthAdjust="spacingAndGlyphs" transform="rotate(-45 247.39 704.40)">IL-9</text>
<text x="260.35" y="704.40" font-size="8.4" text-anchor="end" fill="#231f20" stroke="#231f20" stroke-width="0.18" textLength="16.46" lengthAdjust="spacingAndGlyphs" transform="rotate(-45 260.35 704.40)">IL-10</text>
<text x="273.31" y="704.40" font-size="8.4" text-anchor="end" fill="#231f20" stroke="#231f20" stroke-width="0.18" textLength="28.52" lengthAdjust="spacingAndGlyphs" transform="rotate(-45 273.31 704.40)">IL-12p40</text>
<text x="286.28" y="704.40" font-size="8.4" text-anchor="end" fill="#231f20" stroke="#231f20" stroke-width="0.18" textLength="28.52" lengthAdjust="spacingAndGlyphs" transform="rotate(-45 286.28 704.40)">IL-12p70</text>
<text x="299.24" y="704.40" font-size="8.4" text-anchor="end" fill="#231f20" stroke="#231f20" stroke-width="0.18" textLength="10.44" lengthAdjust="spacingAndGlyphs" transform="rotate(-45 299.24 704.40)">ILF</text>
<text x="312.20" y="704.40" font-size="8.4" text-anchor="end" fill="#231f20" stroke="#231f20" stroke-width="0.18" textLength="16.46" lengthAdjust="spacingAndGlyphs" transform="rotate(-45 312.20 704.40)">IL-13</text>
<text x="325.16" y="704.40" font-size="8.4" text-anchor="end" fill="#231f20" stroke="#231f20" stroke-width="0.18" textLength="10.84" lengthAdjust="spacingAndGlyphs" transform="rotate(-45 325.16 704.40)">LIX</text>
<text x="338.12" y="704.40" font-size="8.4" text-anchor="end" fill="#231f20" stroke="#231f20" stroke-width="0.18" textLength="16.46" lengthAdjust="spacingAndGlyphs" transform="rotate(-45 338.12 704.40)">IL-15</text>
<text x="351.08" y="704.40" font-size="8.4" text-anchor="end" fill="#231f20" stroke="#231f20" stroke-width="0.18" textLength="17.27" lengthAdjust="spacingAndGlyphs" transform="rotate(-45 351.08 704.40)">IP-10</text>
<text x="364.04" y="704.40" font-size="8.4" text-anchor="end" fill="#231f20" stroke="#231f20" stroke-width="0.18" textLength="10.04" lengthAdjust="spacingAndGlyphs" transform="rotate(-45 364.04 704.40)">KC</text>
<text x="377.00" y="704.40" font-size="8.4" text-anchor="end" fill="#231f20" stroke="#231f20" stroke-width="0.18" textLength="22.48" lengthAdjust="spacingAndGlyphs" transform="rotate(-45 377.00 704.40)">MCP-1</text>
<text x="389.96" y="704.40" font-size="8.4" text-anchor="end" fill="#231f20" stroke="#231f20" stroke-width="0.18" textLength="23.28" lengthAdjust="spacingAndGlyphs" transform="rotate(-45 389.96 704.40)">MIP-1a</text>
<text x="402.92" y="704.40" font-size="8.4" text-anchor="end" fill="#231f20" stroke="#231f20" stroke-width="0.18" textLength="23.28" lengthAdjust="spacingAndGlyphs" transform="rotate(-45 402.92 704.40)">MIP-1b</text>
<text x="415.88" y="704.40" font-size="8.4" text-anchor="end" fill="#231f20" stroke="#231f20" stroke-width="0.18" textLength="22.87" lengthAdjust="spacingAndGlyphs" transform="rotate(-45 415.88 704.40)">M-CSF</text>
<text x="428.84" y="704.40" font-size="8.4" text-anchor="end" fill="#231f20" stroke="#231f20" stroke-width="0.18" textLength="19.27" lengthAdjust="spacingAndGlyphs" transform="rotate(-45 428.84 704.40)">MIP-2</text>
<text x="441.80" y="704.40" font-size="8.4" text-anchor="end" fill="#231f20" stroke="#231f20" stroke-width="0.18" textLength="13.64" lengthAdjust="spacingAndGlyphs" transform="rotate(-45 441.80 704.40)">MIG</text>
<text x="454.76" y="704.40" font-size="8.4" text-anchor="end" fill="#231f20" stroke="#231f20" stroke-width="0.18" textLength="29.30" lengthAdjust="spacingAndGlyphs" transform="rotate(-45 454.76 704.40)">RANTES</text>
<text x="467.72" y="704.40" font-size="8.4" text-anchor="end" fill="#231f20" stroke="#231f20" stroke-width="0.18" textLength="18.06" lengthAdjust="spacingAndGlyphs" transform="rotate(-45 467.72 704.40)">TNFa</text>
<defs><linearGradient id="g2" x1="0" y1="1" x2="0" y2="0"><stop offset="0" stop-color="#f8f6fa"/><stop offset="0.2" stop-color="#d6d0e8"/><stop offset="0.5" stop-color="#9a94c6"/><stop offset="0.8" stop-color="#5e5ca0"/><stop offset="1" stop-color="#433886"/></linearGradient></defs>
<rect x="484.75" y="636.65" width="11.45" height="58.15" fill="url(#g2)" stroke="#111" stroke-width="1.25"/>
<text x="500.40" y="638.89" font-size="7.4" text-anchor="start" fill="#231f20" stroke="#231f20" stroke-width="0.15" textLength="9.98" lengthAdjust="spacingAndGlyphs">1.0</text>
<line x1="484.75" y1="648.28" x2="486.55" y2="648.28" stroke="#222" stroke-width="0.9" stroke-linecap="butt"/>
<line x1="494.40" y1="648.28" x2="496.20" y2="648.28" stroke="#222" stroke-width="0.9" stroke-linecap="butt"/>
<text x="500.40" y="650.49" font-size="7.4" text-anchor="start" fill="#231f20" stroke="#231f20" stroke-width="0.15" textLength="9.98" lengthAdjust="spacingAndGlyphs">0.8</text>
<line x1="484.75" y1="659.91" x2="486.55" y2="659.91" stroke="#222" stroke-width="0.9" stroke-linecap="butt"/>
<line x1="494.40" y1="659.91" x2="496.20" y2="659.91" stroke="#222" stroke-width="0.9" stroke-linecap="butt"/>
<text x="500.40" y="662.09" font-size="7.4" text-anchor="start" fill="#231f20" stroke="#231f20" stroke-width="0.15" textLength="9.98" lengthAdjust="spacingAndGlyphs">0.6</text>
<line x1="484.75" y1="671.54" x2="486.55" y2="671.54" stroke="#222" stroke-width="0.9" stroke-linecap="butt"/>
<line x1="494.40" y1="671.54" x2="496.20" y2="671.54" stroke="#222" stroke-width="0.9" stroke-linecap="butt"/>
<text x="500.40" y="673.69" font-size="7.4" text-anchor="start" fill="#231f20" stroke="#231f20" stroke-width="0.15" textLength="9.98" lengthAdjust="spacingAndGlyphs">0.4</text>
<line x1="484.75" y1="683.17" x2="486.55" y2="683.17" stroke="#222" stroke-width="0.9" stroke-linecap="butt"/>
<line x1="494.40" y1="683.17" x2="496.20" y2="683.17" stroke="#222" stroke-width="0.9" stroke-linecap="butt"/>
<text x="500.40" y="685.29" font-size="7.4" text-anchor="start" fill="#231f20" stroke="#231f20" stroke-width="0.15" textLength="9.98" lengthAdjust="spacingAndGlyphs">0.2</text>
<text x="500.40" y="696.89" font-size="7.4" text-anchor="start" fill="#231f20" stroke="#231f20" stroke-width="0.15" textLength="3.99" lengthAdjust="spacingAndGlyphs">0</text>
<rect x="0" y="0" width="520" height="1.5" fill="#525252"/>
<rect x="0" y="1.5" width="1.2" height="736.5" fill="#111"/>
<rect x="518.6" y="1.5" width="1.4" height="736.5" fill="#111"/>
<rect x="0" y="736.3" width="520" height="1.7" fill="#111"/>
</svg>
</body></html>
